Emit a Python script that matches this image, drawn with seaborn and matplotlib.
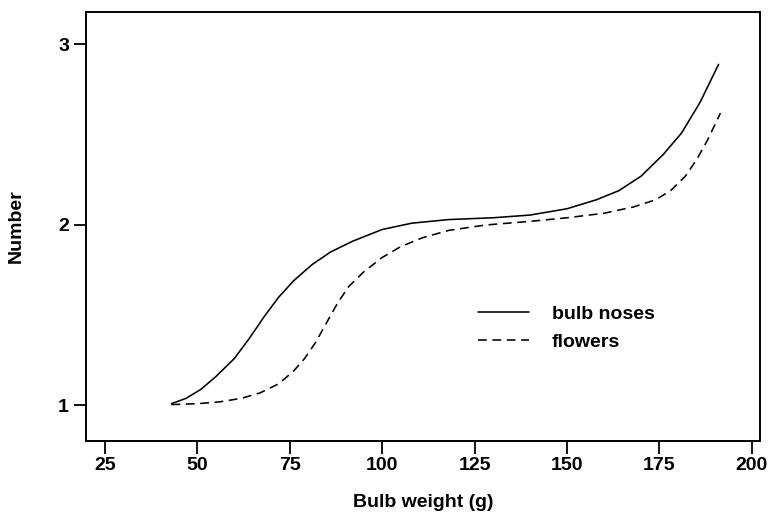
import matplotlib
matplotlib.use("Agg")
import matplotlib.pyplot as plt
import seaborn as sns
import pandas as pd

# Data
noses_x = [43, 47, 51, 55, 60, 64, 68, 72, 76, 81, 86, 92, 100, 108, 118, 130,
           140, 150, 158, 164, 170, 176, 181, 186, 191]
noses_y = [1.01, 1.04, 1.09, 1.16, 1.26, 1.37, 1.49, 1.60, 1.69, 1.78, 1.85, 1.91,
           1.975, 2.01, 2.03, 2.04, 2.055, 2.09, 2.14, 2.19, 2.27, 2.39, 2.51, 2.68, 2.89]

flowers_x = [43, 50, 56, 62, 67, 72, 76, 79, 82, 85, 88, 91, 95, 100, 105, 111, 118,
             128, 140, 150, 160, 168, 174, 178, 182, 185, 188, 191.5]
flowers_y = [1.005, 1.01, 1.02, 1.04, 1.07, 1.12, 1.19, 1.26, 1.35, 1.46, 1.57, 1.66,
             1.74, 1.82, 1.88, 1.93, 1.97, 2.00, 2.02, 2.04, 2.065, 2.10, 2.14, 2.19,
             2.27, 2.36, 2.47, 2.62]

series_labels = ["bulb noses", "flowers"]
x_ticks = [25, 50, 75, 100, 125, 150, 175, 200]
y_ticks = [1, 2, 3]
x_label = "Bulb weight (g)"
y_label = "Number"

sns.set_theme(style="white")
plt.rcParams['font.family'] = ['Liberation Sans', 'DejaVu Sans']
plt.rcParams['font.weight'] = 'bold'
plt.rcParams['text.color'] = 'black'
plt.rcParams['axes.labelcolor'] = 'black'

fig = plt.figure(figsize=(7.7, 5.14), dpi=100)
ax = fig.add_axes([85.7 / 770, 1 - 440.5 / 514, (760 - 85.7) / 770, (440.5 - 12) / 514])

df1 = pd.DataFrame({"x": noses_x, "y": noses_y})
df2 = pd.DataFrame({"x": flowers_x, "y": flowers_y})
sns.lineplot(data=df1, x="x", y="y", ax=ax, color="black", lw=1.15,
             label=series_labels[0], sort=False)
sns.lineplot(data=df2, x="x", y="y", ax=ax, color="black", lw=1.15,
             linestyle=(0, (5.5, 3.5)), label=series_labels[1], sort=False)

ax.set_xlim(19.8, 202.2)
ax.set_ylim(0.806, 3.18)
ax.set_xticks(x_ticks)
ax.set_yticks(y_ticks)
ax.set_xticklabels([str(t) for t in x_ticks], fontsize=14, fontweight='bold')
ax.set_yticklabels([str(t) for t in y_ticks], fontsize=14, fontweight='bold')
ax.tick_params(axis='both', which='both', direction='out', length=9, width=1.3,
               color='black', labelcolor='black', bottom=True, left=True,
               top=False, right=False)
ax.tick_params(axis='x', pad=3)
ax.tick_params(axis='y', pad=3)
for s in ax.spines.values():
    s.set_visible(True)
    s.set_color('black')
    s.set_linewidth(1.4)

ax.set_xlabel(x_label, fontsize=14, fontweight='bold', color='black')
ax.set_ylabel(y_label, fontsize=14, fontweight='bold', color='black')
ax.xaxis.set_label_coords(0.5, -0.125)
ax.yaxis.set_label_coords(-0.090, 0.5)

leg = ax.legend(loc='upper left', bbox_to_anchor=(0.582, 0.316), frameon=False,
                borderaxespad=0, borderpad=0, handlelength=2.6, handletextpad=1.2,
                labelspacing=0.55, prop={'size': 14, 'weight': 'bold'})
for t in leg.get_texts():
    t.set_color('black')

fig.savefig("out.png", dpi=100)
